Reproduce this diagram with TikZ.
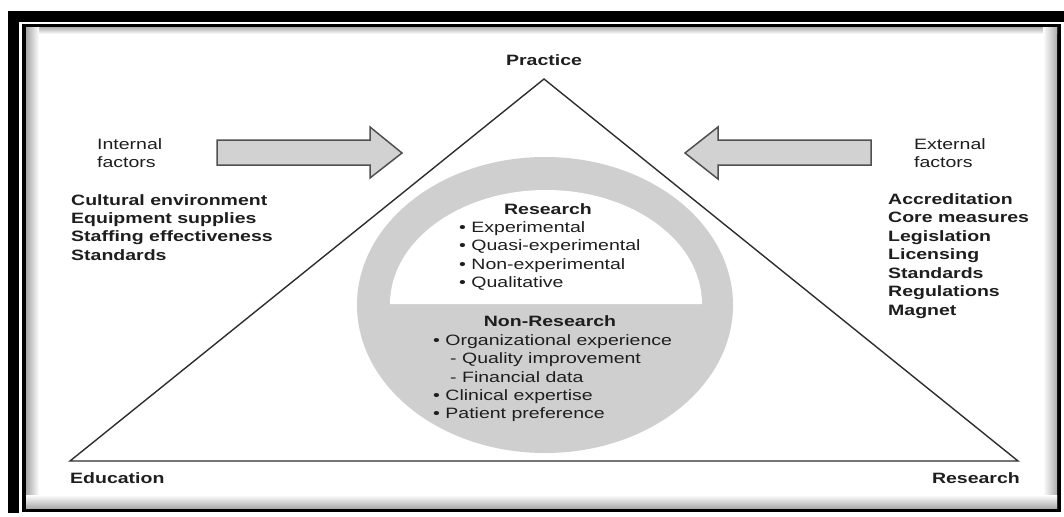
\documentclass[tikz,border=0pt]{standalone}
\usepackage{fontspec}
\setmainfont{Liberation Sans}[FakeStretch=1.3]
\definecolor{txtc}{HTML}{1E1E1E}
\definecolor{circg}{HTML}{CFCFCF}
\definecolor{arrf}{HTML}{D2D2D2}
\definecolor{arrd}{HTML}{505050}
\definecolor{linec}{HTML}{2E2E2E}
\begin{document}
\begin{tikzpicture}[x=1pt,y=-1pt,
  txt/.style={inner sep=0pt, anchor=base west, text=txtc, font=\fontsize{15}{18}\selectfont},
  btxt/.style={txt, font=\fontsize{15}{18}\selectfont\bfseries},
  blockarrow/.style={fill=arrf, draw=arrd, line width=1.5pt, line join=miter},
  side/.style={draw=linec, line width=1.4pt, line join=miter}]
\useasboundingbox (0,0) rectangle (1064,516);
\fill[white] (0,0) rectangle (1064,516);
% frame
\fill[black] (8,11) rectangle (1064,22);
\fill[black] (8,11) rectangle (19,513);
\draw[black, line width=4pt] (24,26) rectangle (1059,510);
\shade[top color=gray!55, bottom color=white] (26,28) rectangle (1057,34);
\shade[left color=gray!70, right color=white] (26,28) rectangle (39,508);
\shade[left color=white, right color=gray!65] (1043,28) rectangle (1057,508);
\shade[top color=white, bottom color=gray!65] (26,495) rectangle (1057,508);
% triangle
\coordinate (P) at (544,79);
\coordinate (E) at (70,461);
\coordinate (R) at (1018,461);
\draw[side] (P) -- (R) -- (E) -- cycle;
% circle
\fill[circg] (545,305) ellipse [x radius=188, y radius=148];
\fill[white] (390,304) arc[start angle=180, end angle=360, x radius=156, y radius=114] -- cycle;
% arrows
\draw[blockarrow] (217,140) -- (370,140) -- (370,127) -- (402,153) -- (370,178) -- (370,165) -- (217,165) -- cycle;
\draw[blockarrow] (871,140) -- (718,140) -- (718,127) -- (685,153) -- (718,179) -- (718,165) -- (871,165) -- cycle;
% corner labels
\node[btxt, anchor=base] (practice) at (544,66) {Practice};
\node[btxt] (education) at (70,483) {Education};
\node[btxt, anchor=base east] (research) at (1020,483) {Research};
% internal
\node[txt] (int1) at (97,149) {Internal};
\node[txt] (int2) at (97,167) {factors};
\node[btxt] (il1) at (71,205) {Cultural environment};
\node[btxt] (il2) at (71,223.3) {Equipment supplies};
\node[btxt] (il3) at (71,241.6) {Staffing effectiveness};
\node[btxt] (il4) at (71,260) {Standards};
% external
\node[txt] (ext1) at (914,149) {External};
\node[txt] (ext2) at (914,167) {factors};
\node[btxt] (el1) at (888,204) {Accreditation};
\node[btxt] (el2) at (888,222.5) {Core measures};
\node[btxt] (el3) at (888,241) {Legislation};
\node[btxt] (el4) at (888,259.5) {Licensing};
\node[btxt] (el5) at (888,278) {Standards};
\node[btxt] (el6) at (888,296.5) {Regulations};
\node[btxt] (el7) at (888,315) {Magnet};
% research
\node[btxt, anchor=base] (rh) at (548,214) {Research};
\node[txt] (r1) at (459,232) {• Experimental};
\node[txt] (r2) at (459,250.5) {• Quasi-experimental};
\node[txt] (r3) at (459,269) {• Non-experimental};
\node[txt] (r4) at (459,287.5) {• Qualitative};
% non-research
\node[btxt, anchor=base] (nh) at (550,326) {Non-Research};
\node[txt] (n1) at (433,345) {• Organizational experience};
\node[txt] (n2) at (450,363.5) {- Quality improvement};
\node[txt] (n3) at (450,382) {- Financial data};
\node[txt] (n4) at (433,400) {• Clinical expertise};
\node[txt] (n5) at (433,418.5) {• Patient preference};
\end{tikzpicture}
\end{document}
